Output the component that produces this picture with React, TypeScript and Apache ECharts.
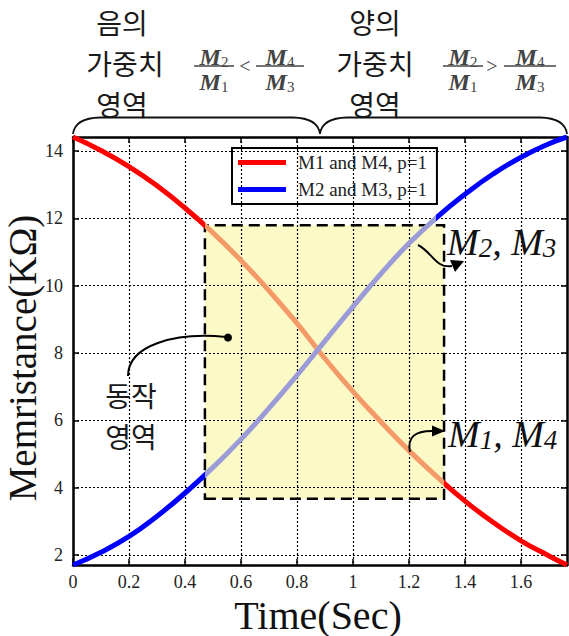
import React, { useEffect, useRef } from "react";
import * as echarts from "echarts";

// ---- data ----
const timeSec = [0, 0.1, 0.2, 0.3, 0.4, 0.5, 0.6, 0.7, 0.8, 0.9, 1.0, 1.1, 1.2, 1.3, 1.4, 1.5, 1.6, 1.7, 1.764];
const m1m4 = [14.42, 14.02, 13.54, 12.97, 12.31, 11.57, 10.75, 9.85, 8.88, 7.83, 6.85, 5.95, 5.1, 4.32, 3.6, 2.97, 2.42, 1.97, 1.7];
const m2m3 = [1.7, 2.08, 2.55, 3.15, 3.84, 4.6, 5.44, 6.36, 7.34, 8.36, 9.38, 10.36, 11.26, 12.04, 12.72, 13.32, 13.82, 14.22, 14.42];
const seriesNames = ["M1 and M4, p=1", "M2 and M3, p=1"];
const xTicks = [0, 0.2, 0.4, 0.6, 0.8, 1, 1.2, 1.4, 1.6];
const xTickLabels = ["0", "0.2", "0.4", "0.6", "0.8", "1", "1.2", "1.4", "1.6"];
const yTicks = [2, 4, 6, 8, 10, 12, 14];
const yTickLabels = ["2", "4", "6", "8", "10", "12", "14"];
const xRange = [0, 1.764];
const yRange = [1.7, 14.42];
// operating region box (Time, Memristance)
const opRegionX = [0.471, 1.325];
const opRegionY = [3.67, 11.8];
const blueInRegionX = [0.471, 1.295];

const SERIF = '"Liberation Serif", "Times New Roman", serif';
const KR = '"Noto Sans CJK KR", sans-serif';

function fracElems(cx: number, cy: number, n: string, d: string, w: number) {
  const rich = {
    m: { fontFamily: SERIF, fontStyle: "italic", fontWeight: "bold", fontSize: 24, fill: "#444" },
    s: { fontFamily: SERIF, fontSize: 15, fill: "#444", verticalAlign: "bottom" },
  };
  return [
    { type: "text", z: 100, x: cx, y: cy - 9, style: { text: `{m|M}{s|${n}}`, rich, align: "center", verticalAlign: "middle" } },
    { type: "line", z: 100, shape: { x1: cx - w / 2, y1: cy, x2: cx + w / 2, y2: cy }, style: { stroke: "#444", lineWidth: 1.4 } },
    { type: "text", z: 100, x: cx, y: cy + 16, style: { text: `{m|M}{s|${d}}`, rich, align: "center", verticalAlign: "middle" } },
  ];
}

function krText(text: string, x: number, y: number, size = 28) {
  return { type: "text", z: 100, x, y, style: { text, fontFamily: KR, fontSize: size, fill: "#1a1a1a", align: "center", verticalAlign: "middle" } };
}

export default function App() {
  const ref = useRef<HTMLDivElement>(null);
  useEffect(() => {
    if (!ref.current) return;
    const chart = echarts.init(ref.current, null, { renderer: "svg" });
    const axisLineStyle = { color: "#000", width: 2.5 };
    const tickStyle = { color: "#000", width: 1.5 };
    const labelStyle = { fontFamily: SERIF, fontSize: 18, color: "#222" };
    const gridLine = { show: true, lineStyle: { color: "#000", width: 1.2, type: [2, 2] } };

    const bigRich = {
      m: { fontFamily: SERIF, fontStyle: "italic", fontSize: 38, fill: "#111" },
      s: { fontFamily: SERIF, fontStyle: "italic", fontSize: 27, fill: "#111", verticalAlign: "bottom" },
    };

    const graphic: any[] = [
      krText("음의", 122, 22), krText("가중치", 125, 63), krText("영역", 122, 104),
      krText("양의", 375, 22), krText("가중치", 375, 63), krText("영역", 375, 104),
      ...fracElems(214, 66, "2", "1", 40),
      { type: "text", z: 100, x: 245, y: 66, style: { text: "<", fontFamily: SERIF, fontSize: 20, fill: "#444", align: "center", verticalAlign: "middle" } },
      ...fracElems(280, 66, "4", "3", 48),
      ...fracElems(463, 66, "2", "1", 40),
      { type: "text", z: 100, x: 492, y: 66, style: { text: ">", fontFamily: SERIF, fontSize: 20, fill: "#444", align: "center", verticalAlign: "middle" } },
      ...fracElems(530, 66, "4", "3", 52),
      // brace
      { type: "bezierCurve", z: 100, shape: { x1: 73, y1: 134, cpx1: 75, cpy1: 118, x2: 100, y2: 117.5 }, style: { stroke: "#111", lineWidth: 1.8, fill: null } },
      { type: "line", z: 100, shape: { x1: 100, y1: 117.5, x2: 293, y2: 117.5 }, style: { stroke: "#111", lineWidth: 1.8 } },
      { type: "bezierCurve", z: 100, shape: { x1: 293, y1: 117.5, cpx1: 318, cpy1: 118, x2: 320, y2: 134 }, style: { stroke: "#111", lineWidth: 1.8, fill: null } },
      { type: "bezierCurve", z: 100, shape: { x1: 320, y1: 134, cpx1: 322, cpy1: 118, x2: 347, y2: 117.5 }, style: { stroke: "#111", lineWidth: 1.8, fill: null } },
      { type: "line", z: 100, shape: { x1: 347, y1: 117.5, x2: 540, y2: 117.5 }, style: { stroke: "#111", lineWidth: 1.8 } },
      { type: "bezierCurve", z: 100, shape: { x1: 540, y1: 117.5, cpx1: 565, cpy1: 118, x2: 567, y2: 134 }, style: { stroke: "#111", lineWidth: 1.8, fill: null } },
      // axis titles
      { type: "text", z: 100, x: 318, y: 615, style: { text: "Time(Sec)", fontFamily: SERIF, fontSize: 40, fill: "#111", align: "center", verticalAlign: "middle" } },
      { type: "text", z: 100, x: 22, y: 358, rotation: Math.PI / 2, style: { text: "Memristance(KΩ)", fontFamily: SERIF, fontSize: 39, fill: "#111", align: "center", verticalAlign: "middle" } },
      // in-plot labels
      { type: "text", z: 100, x: 447, y: 242, style: { text: "{m|M}{s|2}{m|, M}{s|3}", rich: bigRich, align: "left", verticalAlign: "middle" } },
      { type: "text", z: 100, x: 448, y: 434, style: { text: "{m|M}{s|1}{m|, M}{s|4}", rich: bigRich, align: "left", verticalAlign: "middle" } },
      krText("동작", 131, 395), krText("영역", 131, 436),
      // arrows
      { type: "bezierCurve", z: 100, shape: { x1: 418, y1: 245, cpx1: 432, cpy1: 252, cpx2: 436, cpy2: 269, x2: 452, y2: 266 }, style: { stroke: "#000", lineWidth: 2, fill: null } },
      { type: "polygon", z: 100, shape: { points: [[464, 261], [450, 260], [455, 272]] }, style: { fill: "#000" } },
      { type: "bezierCurve", z: 100, shape: { x1: 410, y1: 452, cpx1: 407, cpy1: 437, cpx2: 415, cpy2: 431, x2: 432, y2: 431 }, style: { stroke: "#000", lineWidth: 2, fill: null } },
      { type: "polygon", z: 100, shape: { points: [[445, 431], [432, 425.5], [432, 436.5]] }, style: { fill: "#000" } },
      { type: "bezierCurve", z: 100, shape: { x1: 128, y1: 376, cpx1: 128, cpy1: 345, cpx2: 175, cpy2: 332, x2: 226, y2: 337 }, style: { stroke: "#000", lineWidth: 2, fill: null } },
      { type: "circle", z: 100, shape: { cx: 228, cy: 337.5, r: 4 }, style: { fill: "#000" } },
    ];

    const option: any = {
      animation: false,
      backgroundColor: "#fff",
      grid: { left: 73, top: 137, width: 494, height: 428, containLabel: false },
      legend: {
        orient: "vertical",
        left: 232,
        top: 148,
        icon: "rect",
        itemWidth: 48,
        itemHeight: 5,
        itemGap: 8,
        borderColor: "#000",
        borderWidth: 2,
        padding: [5, 10, 5, 6],
        backgroundColor: "transparent",
        textStyle: { fontFamily: SERIF, fontSize: 19, color: "#222", padding: [0, 0, 0, 7] },
        data: [
          { name: seriesNames[0], itemStyle: { color: "#ff0000" } },
          { name: seriesNames[1], itemStyle: { color: "#0000ff" } },
        ],
      },
      xAxis: [
        {
          type: "value", position: "bottom", min: xRange[0], max: xRange[1], z: 1.5,
          axisLine: { show: true, onZero: false, lineStyle: axisLineStyle },
          axisTick: { show: true, inside: true, length: 6, customValues: xTicks, lineStyle: tickStyle },
          axisLabel: { show: true, customValues: xTicks, margin: 8, ...labelStyle, formatter: (v: number) => { const i = xTicks.indexOf(v); return i >= 0 ? xTickLabels[i] : String(v); } },
          splitLine: gridLine,
        },
        {
          type: "value", position: "top", min: xRange[0], max: xRange[1],
          axisLine: { show: true, onZero: false, lineStyle: axisLineStyle },
          axisTick: { show: true, inside: true, length: 6, customValues: xTicks, lineStyle: tickStyle },
          axisLabel: { show: false },
          splitLine: { show: false },
        },
      ],
      yAxis: [
        {
          type: "value", position: "left", min: yRange[0], max: yRange[1], z: 1.5,
          axisLine: { show: true, onZero: false, lineStyle: axisLineStyle },
          axisTick: { show: true, inside: true, length: 6, customValues: yTicks, lineStyle: tickStyle },
          axisLabel: { show: true, customValues: yTicks, margin: 10, ...labelStyle, formatter: (v: number) => { const i = yTicks.indexOf(v); return i >= 0 ? yTickLabels[i] : String(v); } },
          splitLine: gridLine,
        },
        {
          type: "value", position: "right", min: yRange[0], max: yRange[1],
          axisLine: { show: true, onZero: false, lineStyle: axisLineStyle },
          axisTick: { show: true, inside: true, length: 6, customValues: yTicks, lineStyle: tickStyle },
          axisLabel: { show: false },
          splitLine: { show: false },
        },
      ],
      visualMap: [
        { type: "piecewise", show: false, seriesIndex: 0, dimension: 0, pieces: [{ gte: opRegionX[0], lte: opRegionX[1], color: "#f49a68" }], outOfRange: { color: "#ff0000" } },
        { type: "piecewise", show: false, seriesIndex: 1, dimension: 0, pieces: [{ gte: blueInRegionX[0], lte: blueInRegionX[1], color: "#9b9bd8" }], outOfRange: { color: "#0000ff" } },
      ],
      series: [
        {
          name: seriesNames[0], type: "line", xAxisIndex: 0, yAxisIndex: 0,
          data: timeSec.map((t, i) => [t, m1m4[i]]),
          showSymbol: false, smooth: true, color: "#ff0000",
          lineStyle: { width: 5 },
          markArea: {
            silent: true,
            itemStyle: { color: "#fbf9c6", borderColor: "#000", borderWidth: 2.5, borderType: [11, 6] },
            label: { show: false },
            data: [[{ xAxis: opRegionX[0], yAxis: opRegionY[0] }, { xAxis: opRegionX[1], yAxis: opRegionY[1] }]],
          },
        },
        {
          name: seriesNames[1], type: "line", xAxisIndex: 0, yAxisIndex: 0,
          data: timeSec.map((t, i) => [t, m2m3[i]]),
          showSymbol: false, smooth: true, color: "#0000ff",
          lineStyle: { width: 5 },
        },
      ],
      graphic,
    };
    chart.setOption(option);
    return () => chart.dispose();
  }, []);
  return <div ref={ref} style={{ position: "fixed", left: 0, top: 0, width: 569, height: 636, background: "#fff" }} />;
}
